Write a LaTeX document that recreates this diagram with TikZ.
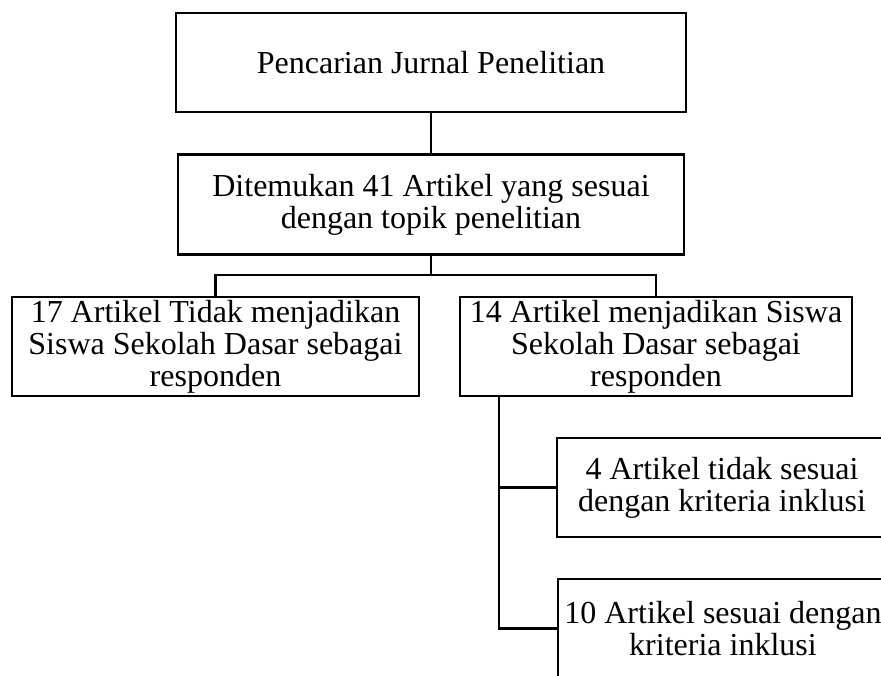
\documentclass[tikz,border=0pt]{standalone}
\usepackage{fontspec}
\setmainfont{Liberation Serif}
\begin{document}
\begin{tikzpicture}[x=1pt,y=-1pt,
  box/.style={draw=black,line width=2.8pt,rectangle,inner sep=0pt,align=center,
    font=\fontsize{32}{32}\selectfont},
  conn/.style={draw=black,line width=2.6pt}]
\clip (0,0) rectangle (881,675);
\fill[white] (0,0) rectangle (881,675);
\node[box,minimum width=510,minimum height=99] (top) at (431,62.5) {Pencarian Jurnal Penelitian};
\node[box,minimum width=506,minimum height=100] (found) at (431,204.5) {Ditemukan 41 Artikel yang sesuai\\dengan topik penelitian};
\node[box,minimum width=407,minimum height=99] (left) at (215.5,346.5) {17 Artikel Tidak menjadikan\\Siswa Sekolah Dasar sebagai\\responden};
\node[box,minimum width=392,minimum height=99] (right) at (656,346.5) {14 Artikel menjadikan Siswa\\Sekolah Dasar sebagai\\responden};
\node[box,minimum width=330,minimum height=99] (excl) at (722,487.5) {4 Artikel tidak sesuai\\dengan kriteria inklusi};
\node[box,minimum width=330,minimum height=99] (incl) at (723,628.5) {10 Artikel sesuai dengan\\kriteria inklusi};
\coordinate (j1) at (431,275);
\coordinate (rt) at (499,396);
\draw[conn] (top.south) -- (found.north);
\draw[conn] (found.south) -- (j1);
\draw[conn] (left.north) |- (j1) -| (right.north);
\draw[conn] (rt) |- (excl.west);
\draw[conn] (rt) |- (incl.west);
\end{tikzpicture}
\end{document}
